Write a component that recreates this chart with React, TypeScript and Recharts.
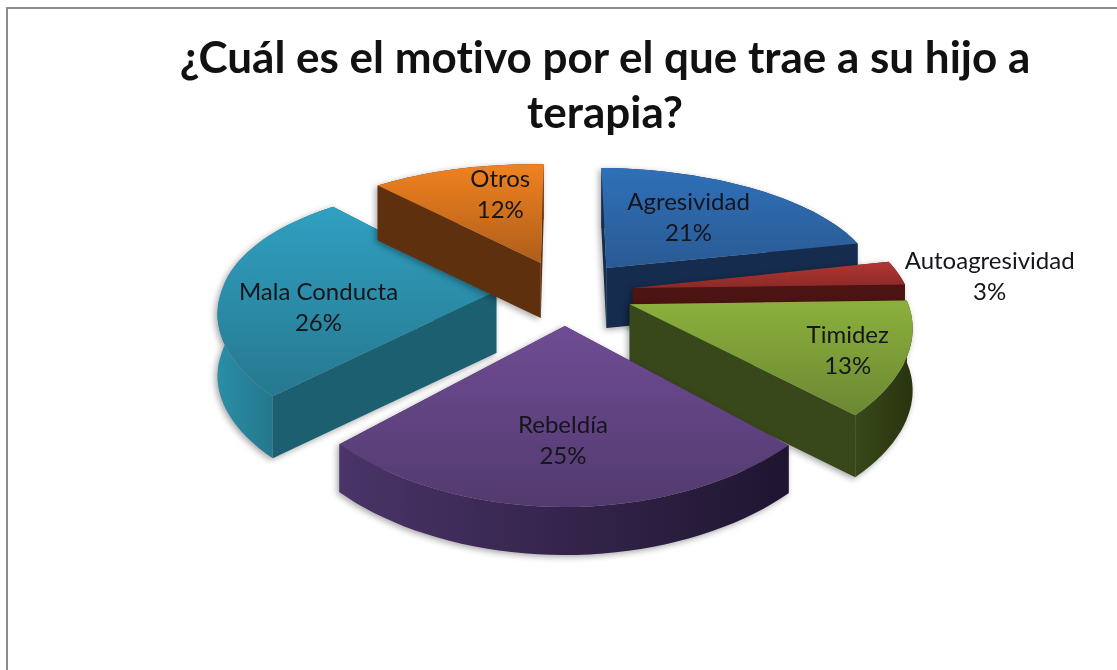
import React from 'react';
import { PieChart, Pie, Cell } from 'recharts';

const categories = ['Agresividad', 'Autoagresividad', 'Timidez', 'Rebeldía', 'Mala Conducta', 'Otros'];
const shares = [21, 3, 13, 25, 26, 12];

const topLight = ['#2f70b8', '#b23632', '#8cb03c', '#6f4c94', '#30a0c2', '#f08220'];
const topDark = ['#2a5a94', '#8a2a28', '#6a8832', '#523a6e', '#26788e', '#ae5e1a'];
const wallColors = ['#152c4e', '#4c1412', '#39481a', '#3f2d5a', '#1c5f70', '#5f300e'];
const outerLeft = ['#152c4e', '#4c1412', '#39481a', '#4a3468', '#2a8ea6', '#5f300e'];
const outerRight = ['#152c4e', '#4c1412', '#28340e', '#1f1530', '#1c5f70', '#5f300e'];
const wallDepth = [60, 40, 62, 48, 62, 55];

const labelReach = [0.5, 1.37, 0.79, 0.72, 0.65, 0.61];
const labelShiftX = [6, -4, 2, -1, 0, 13];
const labelShiftY = [0, 17, 12, 1, 27, 0];

const W = 1117;
const H = 670;
const CX = 565;
const CY = 292;
const RX = 275;
const RY = 129;
const TILT_X = 0.14;
const TILT_Y = 0.2;
const LEAN = 8;
const EXPLODE = 0.25;
const FONT = 'Lato, "Open Sans", sans-serif';

const rad = (d: number) => (d * Math.PI) / 180;

// flat pie plane -> screen, far side shrinks a bit and leans left
const project = (x: number, y: number): [number, number] => [
  CX + (RX * x) / (1 + TILT_X * y) - LEAN * Math.max(0, y),
  CY - (RY * y) / (1 + TILT_Y * y),
];

const pointAt = (mid: number, angle: number, r: number) =>
  project(
    EXPLODE * Math.cos(rad(mid)) + r * Math.cos(rad(angle)),
    EXPLODE * Math.sin(rad(mid)) + r * Math.sin(rad(angle))
  );

const toPath = (pts: [number, number][]) =>
  pts.map((p, i) => `${i ? 'L' : 'M'}${p[0].toFixed(1)},${p[1].toFixed(1)}`).join(' ') + ' Z';

const Slice3D = (props: any) => {
  const { startAngle, endAngle, index } = props;
  const depth = wallDepth[index];
  const mid = (startAngle + endAngle) / 2;
  const steps = 40;
  const arc: [number, number][] = [];
  for (let i = 0; i <= steps; i++) {
    arc.push(pointAt(mid, startAngle + ((endAngle - startAngle) * i) / steps, 1));
  }
  const apex = pointAt(mid, mid, 0);
  const drop = (p: [number, number]): [number, number] => [p[0], p[1] + depth];
  const outer = [...arc, ...[...arc].reverse().map(drop)];
  return (
    <g>
      <defs>
        <linearGradient id={`top-${index}`} x1="0" y1="0" x2="0" y2="1">
          <stop offset="0%" stopColor={topLight[index]} />
          <stop offset="100%" stopColor={topDark[index]} />
        </linearGradient>
        <linearGradient id={`outer-${index}`} x1="0" y1="0" x2="1" y2="0">
          <stop offset="0%" stopColor={outerLeft[index]} />
          <stop offset="100%" stopColor={outerRight[index]} />
        </linearGradient>
      </defs>
      <g style={{ filter: 'drop-shadow(-2px 2px 3px rgba(0,0,0,0.35))' }}>
        <path d={toPath([apex, arc[0], drop(arc[0]), drop(apex)])} fill={wallColors[index]} />
        <path d={toPath([apex, arc[steps], drop(arc[steps]), drop(apex)])} fill={wallColors[index]} />
        <path d={toPath(outer)} fill={`url(#outer-${index})`} />
        <path d={toPath([apex, ...arc])} fill={`url(#top-${index})`} />
      </g>
    </g>
  );
};

const sliceLabel = (props: any) => {
  const { midAngle, index, percent } = props;
  const [px, py] = pointAt(midAngle, midAngle, labelReach[index]);
  const x = px + labelShiftX[index];
  const y = py + labelShiftY[index];
  return (
    <text x={x} y={y} textAnchor="middle" fontFamily={FONT} fontSize={24} fill="#15151c">
      <tspan x={x} dy={-15}>{categories[index]}</tspan>
      <tspan x={x} dy={31}>{Math.round(percent * 100)}%</tspan>
    </text>
  );
};

const pieData = categories.map((name, i) => ({ name, value: shares[i] }));
const titleStyle = { fontVariantLigatures: 'none' };

export default function App() {
  return (
    <div style={{ position: 'absolute', left: 0, top: 0, width: W, height: H, background: '#fff', overflow: 'hidden', filter: 'blur(0.5px)' }}>
      <div style={{ position: 'absolute', left: 6, top: 7, width: W, height: H, border: '2px solid #8c8c8c' }} />
      <PieChart width={W} height={H} style={{ position: 'absolute', left: 0, top: 0 }}>
        <text x={605} y={73} textAnchor="middle" fontFamily={FONT} fontWeight={700} fontSize={44} fill="#111" style={titleStyle}>
          ¿Cuál es el motivo por el que trae a su hijo a
        </text>
        <text x={605} y={128} textAnchor="middle" fontFamily={FONT} fontWeight={700} fontSize={44} fill="#111" style={titleStyle}>
          terapia?
        </text>
        <Pie
          data={pieData}
          dataKey="value"
          nameKey="name"
          cx={CX}
          cy={CY}
          outerRadius={RY}
          startAngle={88}
          endAngle={-272}
          paddingAngle={0}
          stroke="none"
          shape={Slice3D}
          label={sliceLabel}
          labelLine={false}
          isAnimationActive={false}
        >
          {pieData.map((d, i) => (
            <Cell key={d.name} fill={topLight[i]} />
          ))}
        </Pie>
      </PieChart>
    </div>
  );
}
